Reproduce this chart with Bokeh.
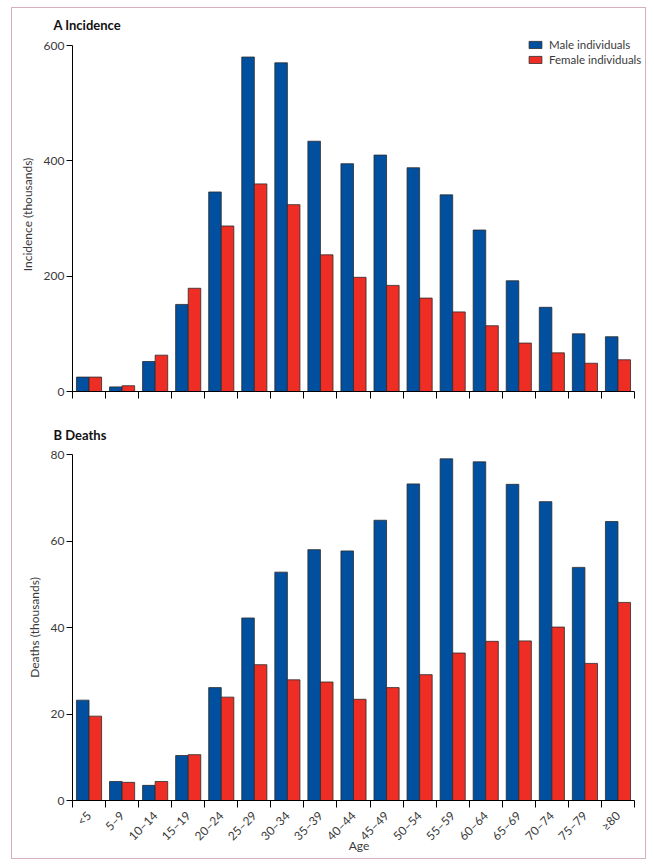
from bokeh.plotting import figure
from bokeh.models import (ColumnDataSource, Range1d, LinearAxis, FixedTicker, Legend, LegendItem)
from bokeh.transform import dodge
from bokeh.layouts import column
from bokeh.embed import file_html
from bokeh.resources import INLINE
import math

ages = ["<5", "5–9", "10–14", "15–19", "20–24", "25–29", "30–34", "35–39", "40–44",
        "45–49", "50–54", "55–59", "60–64", "65–69", "70–74", "75–79", "≥80"]
inc_male = [25, 8, 52, 151, 346, 580, 570, 434, 395, 410, 388, 341, 280, 192, 146, 100, 95]
inc_female = [25, 10, 63, 179, 287, 360, 324, 237, 198, 184, 162, 138, 114, 84, 67, 49, 55]
death_male = [23.2, 4.4, 3.5, 10.4, 26.1, 42.2, 52.8, 58.0, 57.7, 64.8, 73.2, 79.0, 78.3, 73.1, 69.1, 53.9, 64.5]
death_female = [19.5, 4.2, 4.4, 10.6, 23.9, 31.4, 27.9, 27.4, 23.4, 26.1, 29.1, 34.1, 36.8, 36.9, 40.1, 31.7, 45.8]
inc_ticks = [0, 200, 400, 600]
death_ticks = [0, 20, 40, 60, 80]

BLUE = "#00509f"
RED = "#ee2e24"
EDGE = "#2b2b2b"
FONT = "Lato"
TICKCOL = "#3a3a3a"

n = len(ages)
centers = [i + 0.5 for i in range(n)]
edges = list(range(n + 1))
X_END = n * 573 / 562  # frame extends to the canvas edge so the legend is not clipped


def make_panel(title, ylabel, male, female, ymax, ytop, yticks, height, btop, bbottom,
               labels, legend, tstandoff):
    src = ColumnDataSource(dict(xc=centers, age=ages, male=male, female=female))
    p = figure(x_range=Range1d(0, X_END), y_range=Range1d(0, ytop),
               width=633, height=height, output_backend="svg", toolbar_location=None,
               x_axis_location=None, y_axis_location=None,
               min_border_left=60, min_border_right=0, min_border_top=btop,
               min_border_bottom=bbottom)
    p.outline_line_color = None
    p.xgrid.visible = False
    p.ygrid.visible = False
    p.background_fill_color = "white"
    p.border_fill_color = "white"

    rm = p.vbar(x=dodge("xc", -0.19), top="male", width=0.38, bottom=0,
                source=src, fill_color=BLUE, line_color=EDGE, line_width=0.8)
    rf = p.vbar(x=dodge("xc", 0.19), top="female", width=0.38, bottom=0,
                source=src, fill_color=RED, line_color=EDGE, line_width=0.8)

    ya = LinearAxis(ticker=FixedTicker(ticks=yticks), axis_label=ylabel, bounds=(0, ymax))
    ya.major_tick_in = 0
    ya.major_tick_out = 6
    ya.minor_tick_line_color = None
    ya.axis_line_color = "black"
    ya.major_tick_line_color = "black"
    ya.major_label_text_font = FONT
    ya.major_label_text_font_size = "12px"
    ya.major_label_text_color = TICKCOL
    ya.major_label_standoff = 2
    ya.axis_label_text_font = FONT
    ya.axis_label_text_font_size = "12px"
    ya.axis_label_text_font_style = "normal"
    ya.axis_label_text_color = TICKCOL
    ya.axis_label_standoff = 6
    p.add_layout(ya, "left")

    if labels:
        xa = LinearAxis(ticker=FixedTicker(ticks=centers, minor_ticks=edges), axis_label="Age",
                        major_label_overrides={c: a for c, a in zip(centers, ages)},
                        bounds=(0, n))
    else:
        xa = LinearAxis(ticker=FixedTicker(ticks=[], minor_ticks=edges), bounds=(0, n))
    xa.axis_line_color = "black"
    xa.major_tick_line_color = None
    xa.major_tick_out = 0
    xa.major_tick_in = 0
    xa.minor_tick_line_color = "black"
    xa.minor_tick_in = 0
    xa.minor_tick_out = 7
    xa.major_label_orientation = math.pi / 4
    xa.major_label_text_font = FONT
    xa.major_label_text_font_size = "12px"
    xa.major_label_text_color = TICKCOL
    xa.major_label_standoff = 6
    xa.axis_label_text_font = FONT
    xa.axis_label_text_font_size = "12px"
    xa.axis_label_text_font_style = "normal"
    xa.axis_label_text_color = TICKCOL
    xa.axis_label_standoff = -14
    p.add_layout(xa, "below")

    p.title.text = title
    p.title.text_font = FONT
    p.title.text_font_size = "13px"
    p.title.text_font_style = "bold"
    p.title.text_color = "#111111"
    p.title.offset = -19
    p.title.standoff = tstandoff

    if legend:
        lg = Legend(items=[LegendItem(label="Male individuals", renderers=[rm]),
                           LegendItem(label="Female individuals", renderers=[rf])],
                    location=(455, 325))
        lg.padding = 0
        lg.margin = 0
        lg.spacing = 2
        lg.glyph_width = 16
        lg.glyph_height = 9
        lg.label_height = 12
        lg.label_standoff = 6
        lg.label_text_font = FONT
        lg.label_text_font_size = "11.5px"
        lg.label_text_color = TICKCOL
        lg.border_line_color = None
        lg.background_fill_alpha = 0
        p.add_layout(lg)
    return p


pA = make_panel("A  Incidence", "Incidence (thousands)", inc_male, inc_female, 600,
                600 * 354 / 346, inc_ticks, 405, 29, 22, False, True, 9)
pB = make_panel("B  Deaths", "Deaths (thousands)", death_male, death_female, 80, 80,
                death_ticks, 445, 41, 58, True, False, 23)

layout = column(pA, pB, styles={"border": "1px solid #d9aebf", "background-color": "white"},
                margin=(7, 0, 0, 11))

open("out.html", "w").write(file_html(layout, INLINE))
